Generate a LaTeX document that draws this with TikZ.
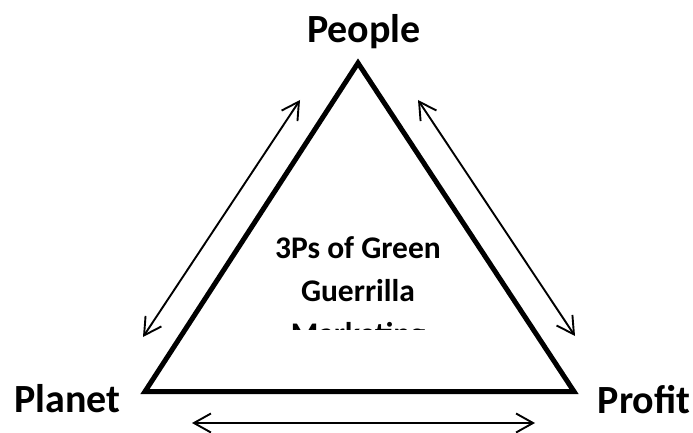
\documentclass[tikz,border=0pt]{standalone}
\usepackage{fontspec}
\setmainfont{Carlito}
\usetikzlibrary{arrows.meta}
\begin{document}
\begin{tikzpicture}[x=1pt,y=-1pt,
  lbl/.style={font=\fontsize{40}{48}\selectfont\bfseries, inner sep=0pt, anchor=base},
  tri/.style={line width=5pt, line join=miter},
  rel/.style={line width=1.9pt, {Straight Barb[length=17pt,width=19pt]}-{Straight Barb[length=17pt,width=19pt]}}]
\useasboundingbox (0,0) rectangle (693,433);
\coordinate (apex) at (358,63);
\coordinate (bl) at (145,391.5);
\coordinate (br) at (574,391.5);
\draw[tri] (apex) -- (bl) -- (br) -- cycle;
\node[lbl] (people) at (364,43) {People};
\node[lbl] (planet) at (67.5,412) {Planet};
\node[lbl] (profit) at (644,413) {Profit};
\coordinate (l1) at (300,100);
\coordinate (l2) at (143,337);
\coordinate (r1) at (418,100);
\coordinate (r2) at (575,336);
\coordinate (b1) at (192,423);
\coordinate (b2) at (535,423);
\draw[rel] (l1) -- (l2);
\draw[rel] (r1) -- (r2);
\draw[rel] (b1) -- (b2);
\begin{scope}
\clip (200,200) rectangle (500,329);
\node[font=\fontsize{31.5}{43}\selectfont\bfseries, align=center, inner sep=0pt, anchor=base] (title) at (358,344) {3Ps of Green\\Guerrilla\\Marketing};
\end{scope}
\end{tikzpicture}
\end{document}
